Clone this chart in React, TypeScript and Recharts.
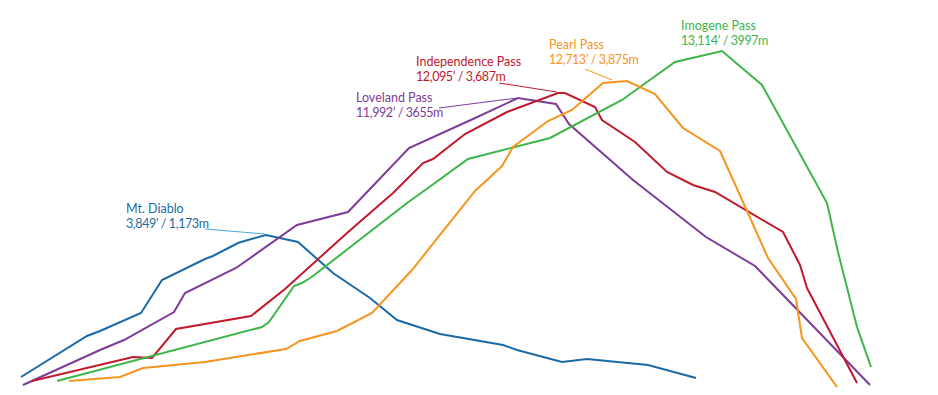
import React from "react";
import { LineChart, Line, XAxis, YAxis, ReferenceDot } from "recharts";

// profile points: d = distance along chart, e = relative elevation
const diablo = [
  [21, 18], [87, 59], [100, 64], [141, 82], [162, 115], [205, 136], [213, 139],
  [238, 152], [248, 155], [266, 160], [298, 153], [333, 122], [370, 97], [397, 75],
  [440, 61], [503, 50], [517, 45], [562, 33], [587, 36], [648, 30], [696, 17],
];
const loveland = [
  [23, 10], [100, 45], [124, 55], [174, 83], [185, 102], [236, 127], [297, 170],
  [348, 183], [409, 247], [473, 276], [518, 297], [556, 291], [569, 271], [633, 215],
  [706, 158], [755, 129], [870, 10],
];
const independence = [
  [32, 14], [133, 38], [152, 37], [176, 66], [251, 79], [285, 106], [347, 162],
  [393, 202], [423, 232], [433, 236], [465, 261], [507, 283], [558, 302], [565, 302],
  [595, 288], [602, 275], [635, 253], [667, 223], [693, 210], [715, 203], [783, 163],
  [800, 130], [807, 107], [857, 12],
];
const imogene = [
  [57, 14], [262, 68], [269, 73], [294, 109], [302, 112], [313, 119], [407, 192],
  [428, 207], [468, 236], [550, 257], [622, 295], [675, 333], [722, 344], [762, 310],
  [827, 192], [838, 143], [857, 68], [871, 28],
];
const pearl = [
  [69, 14], [120, 18], [143, 27], [205, 33], [286, 46], [300, 54], [337, 64],
  [372, 82], [412, 125], [475, 204], [502, 229], [513, 248], [548, 274], [572, 285],
  [603, 312], [627, 314], [655, 301], [683, 267], [720, 244], [743, 193], [768, 137],
  [796, 96], [802, 57], [837, 8],
];

const toRows = (pts: number[][]) => pts.map(([d, e]) => ({ d, e }));

const series = [
  { name: "Mt. Diablo", feet: "3,849’ / 1,173m", pts: diablo, color: "#1b6aa5", leader: "#45a8dd" },
  { name: "Loveland Pass", feet: "11,992’ / 3655m", pts: loveland, color: "#7d3c98", leader: "#7d3c98" },
  { name: "Independence Pass", feet: "12,095’ / 3,687m", pts: independence, color: "#c1192e", leader: "#c1192e" },
  { name: "Imogene Pass", feet: "13,114’ / 3997m", pts: imogene, color: "#3db54a", leader: null },
  { name: "Pearl Pass", feet: "12,713’ / 3,875m", pts: pearl, color: "#f7941e", leader: "#f7941e" },
];

// label offsets relative to each peak
const labelPos: Record<string, { tx: number; ty: number; l?: number[] }> = {
  "Mt. Diablo": { tx: -140, ty: -22, l: [-61, -6, -1, -1] },
  "Loveland Pass": { tx: -162, ty: 4, l: [-79, 10, -1, 0] },
  "Independence Pass": { tx: -142, ty: -27, l: [-59, -10, -1, -1] },
  "Pearl Pass": { tx: -78, ty: -32, l: [-42, -12, -15, -1] },
  "Imogene Pass": { tx: -41, ty: -21 },
};

function peakOf(pts: number[][]) {
  return pts.reduce((a, b) => (b[1] > a[1] ? b : a));
}

export default function App() {
  return (
    <div style={{ position: "absolute", left: 0, top: 0, background: "#fff" }}>
      <LineChart width={938} height={395} margin={{ top: 0, right: 0, bottom: 0, left: 0 }}>
        <XAxis dataKey="d" type="number" domain={[0, 938]} hide allowDuplicatedCategory={false} />
        <YAxis type="number" domain={[0, 395]} hide />
        {series.map((s) => (
          <Line
            key={s.name}
            data={toRows(s.pts)}
            dataKey="e"
            stroke={s.color}
            strokeWidth={2}
            dot={false}
            activeDot={false}
            isAnimationActive={false}
          />
        ))}
        {series.map((s) => {
          const [px, pe] = peakOf(s.pts);
          const p = labelPos[s.name];
          return (
            <ReferenceDot
              key={s.name + "-lbl"}
              x={px}
              y={pe}
              r={0}
              ifOverflow="visible"
              shape={(props: any) => {
                const { cx, cy } = props;
                return (
                  <g>
                    {p.l && s.leader && (
                      <line
                        x1={cx + p.l[0]}
                        y1={cy + p.l[1]}
                        x2={cx + p.l[2]}
                        y2={cy + p.l[3]}
                        stroke={s.leader}
                        strokeWidth={1}
                      />
                    )}
                    <text fill={s.color} fontFamily="Lato, sans-serif" fontSize={12.5}>
                      <tspan x={cx + p.tx} y={cy + p.ty}>{s.name}</tspan>
                      <tspan x={cx + p.tx} y={cy + p.ty + 15} letterSpacing={-0.4}>
                        {s.feet}
                      </tspan>
                    </text>
                  </g>
                );
              }}
            />
          );
        })}
      </LineChart>
    </div>
  );
}
